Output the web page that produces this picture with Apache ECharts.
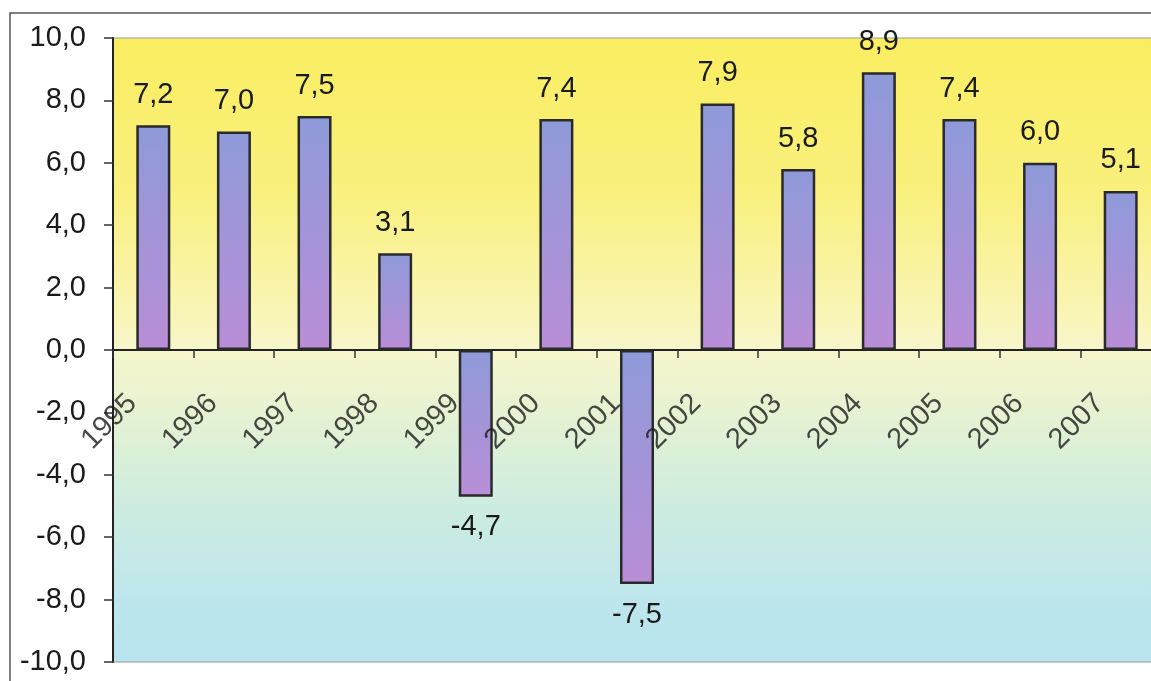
<!DOCTYPE html>
<html>
<head>
<meta charset="utf-8">
<script src="https://cdn.jsdelivr.net/npm/echarts@6/dist/echarts.min.js"></script>
<style>
html,body{margin:0;padding:0;background:#fff;}
#chart{width:1151px;height:681px;}
</style>
</head>
<body>
<div id="chart"></div>
<script>
const categories = ['1995','1996','1997','1998','1999','2000','2001','2002','2003','2004','2005','2006','2007'];
const values = [7.2, 7.0, 7.5, 3.1, -4.7, 7.4, -7.5, 7.9, 5.8, 8.9, 7.4, 6.0, 5.1];
const yMin = -10, yMax = 10, yStep = 2;

const fmt = v => Number(v).toFixed(1).replace('.', ',');
const FONT = '"Liberation Sans", Arial, sans-serif';
const TXT = '#1a1a1a';

const chart = echarts.init(document.getElementById('chart'));
const barGradient = new echarts.graphic.LinearGradient(0, 0, 0, 1, [
  {offset: 0, color: '#8e9ad9'},
  {offset: 1, color: '#b98ed7'}
]);
const bgGradient = new echarts.graphic.LinearGradient(0, 0, 0, 1, [
  {offset: 0, color: '#f9ee60'},
  {offset: 0.25, color: '#f9f07e'},
  {offset: 0.45, color: '#f9f5b8'},
  {offset: 0.5, color: '#f6f6cc'},
  {offset: 0.6, color: '#e6f2d2'},
  {offset: 0.75, color: '#cdece0'},
  {offset: 0.9, color: '#bde6ec'},
  {offset: 1, color: '#b8e4ee'}
]);

chart.setOption({
  animation: false,
  backgroundColor: '#ffffff',
  graphic: [{
    type: 'rect', z: -10, silent: true,
    shape: {x: 10, y: 13, width: 1300, height: 800},
    style: {fill: 'none', stroke: '#555', lineWidth: 1.5}
  }],
  grid: {
    left: 113, top: 38, width: 1048, height: 624,
    containLabel: false, outerBoundsMode: 'none',
    show: true, borderColor: '#999', borderWidth: 1,
    backgroundColor: bgGradient
  },
  xAxis: {
    type: 'category',
    data: categories,
    axisLine: {onZero: true, lineStyle: {color: '#222', width: 2}},
    axisTick: {show: true, length: 8, lineStyle: {color: '#333', width: 1.5}},
    axisLabel: {show: false},
    splitLine: {show: false}
  },
  yAxis: {
    type: 'value',
    min: yMin, max: yMax, interval: yStep,
    axisLine: {show: true, lineStyle: {color: '#222', width: 2}},
    axisTick: {show: true, length: 9, lineStyle: {color: '#333', width: 1.5}},
    axisLabel: {
      formatter: fmt, margin: 27,
      fontSize: 29, fontFamily: FONT, color: TXT
    },
    splitLine: {show: false}
  },
  series: [{
    type: 'bar',
    z: 2,
    barWidth: 34,
    data: values.map(v => ({
      value: v,
      label: {position: v < 0 ? 'bottom' : 'top'}
    })),
    itemStyle: {color: barGradient, borderColor: '#2a2a2a', borderWidth: 2.5},
    label: {
      show: true, distance: 16,
      formatter: p => fmt(p.value),
      fontSize: 29, fontFamily: FONT, color: TXT
    }
  }, {
    type: 'scatter',
    z: 3,
    silent: true,
    symbolSize: 0.1,
    itemStyle: {color: 'rgba(0,0,0,0)'},
    data: categories.map(c => [c, 0]),
    label: {
      show: true, position: 'inside',
      rotate: 45, align: 'right', verticalAlign: 'middle',
      offset: [-49.5, 19.8],
      formatter: p => p.value[0],
      fontSize: 29, fontFamily: FONT, color: TXT
    }
  }]
});
</script>
</body>
</html>
